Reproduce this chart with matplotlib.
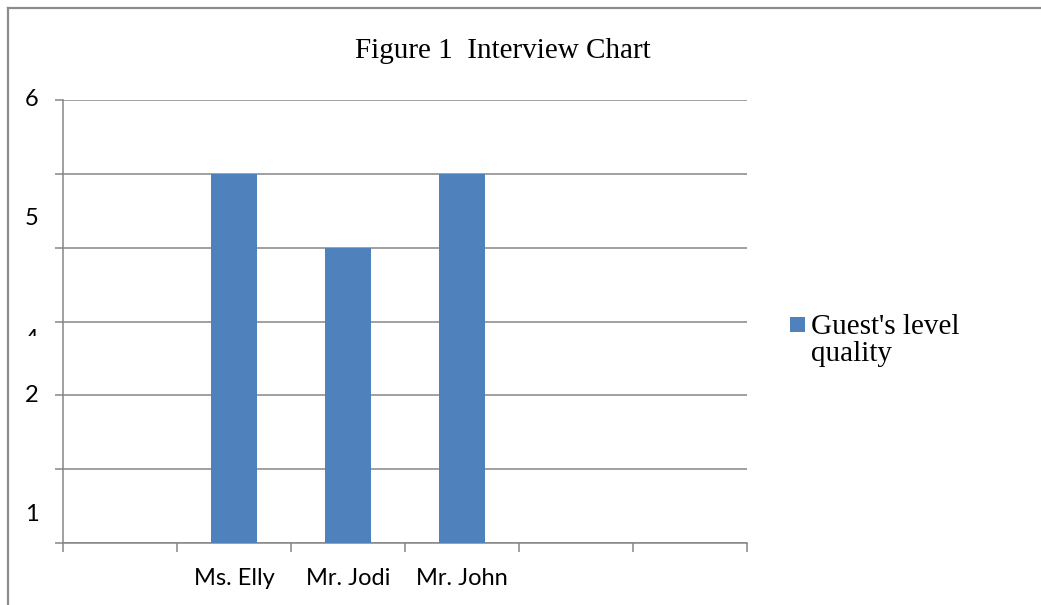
import matplotlib
matplotlib.use("Agg")
import matplotlib.pyplot as plt
from matplotlib.lines import Line2D
from matplotlib.patches import Rectangle
from matplotlib.transforms import Bbox, TransformedBbox, blended_transform_factory

# data
categories = ["", "Ms. Elly", "Mr. Jodi", "Mr. John", "", ""]
values = [0, 5, 4, 5, 0, 0]
series_name = ["Guest's level", "quality"]
title = "Figure 1  Interview Chart"

# the y labels in the source are misplaced; keep them where they appear
ylabel_text = ["6", "5", "4", "2", "1"]
ylabel_pos = [6.0, 4.39, 2.76, 2.0, 0.39]

BAR = "#4F81BD"
GRID = "#868686"
SANS = ["Lato", "DejaVu Sans"]
SERIF = ["Liberation Serif", "DejaVu Serif"]


def main():
    fig = plt.figure(figsize=(10.41, 6.05), dpi=100)
    ax = fig.add_axes([63 / 1041, 1 - 543 / 605, 684 / 1041, 443 / 605])

    x = list(range(len(categories)))
    ax.bar(x, values, width=0.41, color=BAR, zorder=3)

    ax.set_xlim(-0.5, len(categories) - 0.5)
    ax.set_ylim(0, 6)

    # x: ticks on slot boundaries, labels in slot centres
    ax.set_xticks([i - 0.5 for i in range(len(categories) + 1)])
    ax.set_xticklabels([])
    ax.set_xticks(x, minor=True)
    ax.set_xticklabels(categories, minor=True, fontsize=17, family=SANS)
    ax.tick_params(axis="x", which="major", direction="out", length=6.5,
                   width=1.1, color=GRID)
    ax.tick_params(axis="x", which="minor", length=0, pad=18)

    # y: ticks + gridlines, labels drawn as text
    ax.set_yticks(range(7))
    ax.set_yticklabels([])
    ax.tick_params(axis="y", direction="out", length=5.8, width=1.1, color=GRID)
    ax.yaxis.grid(True, color=GRID, linewidth=1.1, zorder=0)
    ax.set_axisbelow(True)

    for side in ("top", "right"):
        ax.spines[side].set_visible(False)
    for side in ("left", "bottom"):
        ax.spines[side].set_color(GRID)
        ax.spines[side].set_linewidth(1.1)

    trans = blended_transform_factory(ax.transAxes, ax.transData)
    for txt, pos in zip(ylabel_text, ylabel_pos):
        t = ax.text(-0.0453, pos, txt, transform=trans, ha="center",
                    va="center", fontsize=17, family=SANS, clip_on=False)
        if txt == "4":
            # only the top of this label shows in the source
            clip = TransformedBbox(Bbox([[-0.1, 2.80], [0.0, 3.2]]), trans)
            t.set_clip_box(clip)
            t.set_clip_on(True)

    fig.text(503 / 1041, 1 - 51 / 605, title, ha="center", va="center",
             fontsize=21, family=SERIF)

    # legend
    fig.patches.append(Rectangle((790 / 1041, 1 - 332 / 605), 15 / 1041, 15 / 605,
                                 transform=fig.transFigure, facecolor=BAR,
                                 edgecolor="none"))
    fig.text(811 / 1041, 1 - 334 / 605, series_name[0], ha="left",
             va="baseline", fontsize=21, family=SERIF)
    fig.text(811 / 1041, 1 - 361 / 605, series_name[1], ha="left",
             va="baseline", fontsize=21, family=SERIF)

    # outer frame (top and left edges visible)
    fig.lines.append(Line2D([8 / 1041, 1.0], [1 - 8 / 605, 1 - 8 / 605],
                            transform=fig.transFigure, color="#8c8c8c", linewidth=1.6))
    fig.lines.append(Line2D([8 / 1041, 8 / 1041], [1 - 8 / 605, 0.0],
                            transform=fig.transFigure, color="#8c8c8c", linewidth=1.6))

    fig.savefig("out.png", dpi=100, facecolor="white")


if __name__ == "__main__":
    main()
